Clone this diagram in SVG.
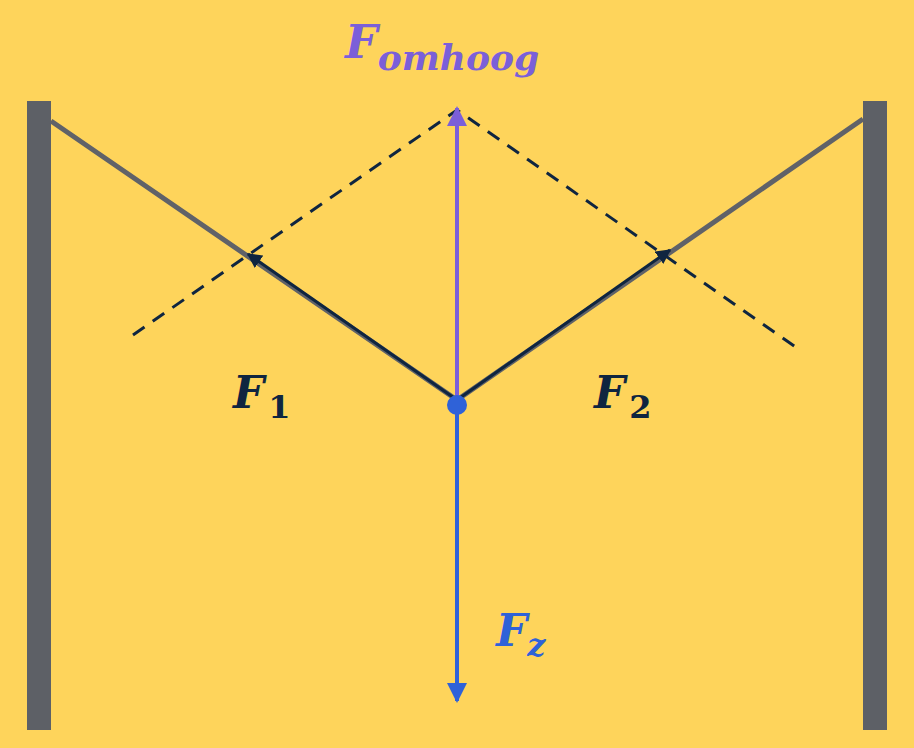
<svg xmlns="http://www.w3.org/2000/svg" width="914" height="748" viewBox="0 0 914 748">
<style>
.t{font-family:"DejaVu Serif","Liberation Serif",serif;font-weight:bold;font-style:italic}
.u{font-style:normal}
</style>
<defs>
<marker id="an" viewBox="0 0 10 10" refX="9" refY="5" markerWidth="5" markerHeight="5" orient="auto"><path d="M0,0L10,5L0,10z" fill="#0f2540"/></marker>
<marker id="ap" viewBox="0 0 10 10" refX="9" refY="5" markerWidth="5" markerHeight="5" orient="auto"><path d="M0,0L10,5L0,10z" fill="#7b5fd9"/></marker>
<marker id="ab" viewBox="0 0 10 10" refX="9" refY="5" markerWidth="5" markerHeight="5" orient="auto"><path d="M0,0L10,5L0,10z" fill="#2f62d8"/></marker>
</defs>
<rect width="914" height="748" fill="#fed45b"/>
<g id="walls" fill="#5d6066">
<rect x="27" y="101" width="24" height="629"/>
<rect x="863" y="101" width="24" height="629"/>
</g>
<g id="connectors">
<polyline points="51,121 457,400 863,119" fill="none" stroke="#606268" stroke-width="5"/>
<polyline points="133,335 457,110 797,348" fill="none" stroke="#0f2540" stroke-width="3" stroke-dasharray="14,10"/>
<line x1="457" y1="400" x2="248" y2="254" stroke="#0f2540" stroke-width="3" marker-end="url(#an)"/>
<line x1="457" y1="400" x2="670" y2="250" stroke="#0f2540" stroke-width="3" marker-end="url(#an)"/>
<line x1="457" y1="400" x2="457" y2="108" stroke="#7b5fd9" stroke-width="4" marker-end="url(#ap)"/>
<line x1="457" y1="405" x2="457" y2="701" stroke="#2f62d8" stroke-width="4" marker-end="url(#ab)"/>
<circle cx="457" cy="405" r="10" fill="#2f62d8"/>
</g>
<g id="labels" class="t">
<text x="345" y="58" font-size="46" fill="#7b5fd9">F<tspan font-size="36" dy="12">omhoog</tspan></text>
<text x="233" y="408" font-size="44" fill="#0f2540">F<tspan class="u" font-size="32" dy="10" dx="4">1</tspan></text>
<text x="594" y="408" font-size="44" fill="#0f2540">F<tspan class="u" font-size="32" dy="10" dx="4">2</tspan></text>
<text x="496" y="646" font-size="44" fill="#2f62d8">F<tspan font-size="32" dy="10">z</tspan></text>
</g>
</svg>
